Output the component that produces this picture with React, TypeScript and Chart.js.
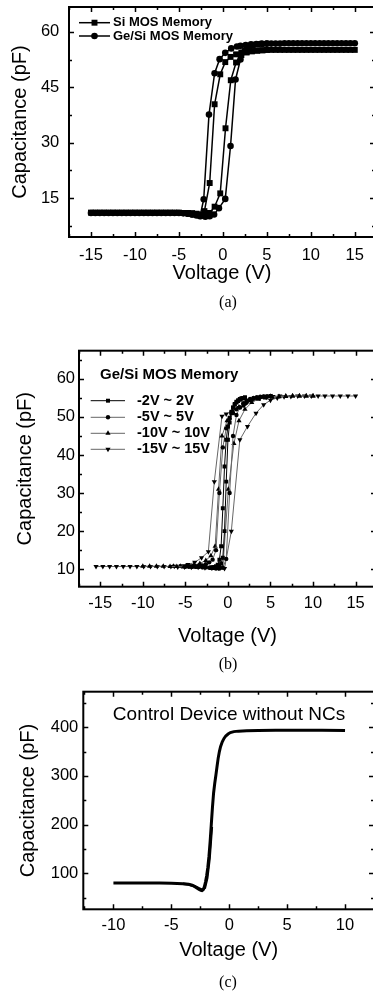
import React, { useEffect, useRef } from "react";
import { Chart, registerables } from "chart.js";
Chart.register(...registerables);

// ---------------- Panel (a) data ----------------
const A_X_TICKS = [-15, -10, -5, 0, 5, 10, 15];
const A_Y_TICKS = [15, 30, 45, 60];
const A_SI_FWD_V = [-15, -14.5, -14, -13.5, -13, -12.5, -12, -11.5, -11, -10.5, -10, -9.5, -9, -8.5, -8, -7.5, -7, -6.5, -6, -5.5, -5, -4.5, -4, -3.5, -3, -2.5, -2.0, -1.5, -0.94, -0.3, 0.3, 0.9, 1.5, 2.1, 2.7, 3.3, 3.9, 4.5, 5, 5.5, 6, 6.5, 7, 7.5, 8, 8.5, 9, 9.5, 10, 10.5, 11, 11.5, 12, 12.5, 13, 13.5, 14, 14.5, 15];
const A_SI_FWD_C = [11.1, 11.1, 11.1, 11.1, 11.1, 11.1, 11.1, 11.1, 11.1, 11.1, 11.1, 11.1, 11.1, 11.1, 11.1, 11.1, 11.1, 11.1, 11.1, 11.1, 11.1, 11.0, 11.0, 10.9, 10.8, 10.6, 10.6, 11.0, 12.7, 16.3, 33.9, 46.9, 51.7, 53.7, 54.4, 54.7, 54.9, 55.0, 55.1, 55.1, 55.1, 55.1, 55.1, 55.1, 55.1, 55.1, 55.1, 55.1, 55.1, 55.1, 55.1, 55.1, 55.1, 55.1, 55.1, 55.1, 55.1, 55.1, 55.1];
const A_SI_REV_V = [5, 4.5, 3.9, 3.3, 2.7, 2.1, 1.5, 0.87, 0.27, -0.3, -0.94, -1.5, -2.1, -2.5, -3, -3.5, -4];
const A_SI_REV_C = [55.1, 55.0, 54.9, 54.8, 54.6, 54.4, 53.9, 53.2, 51.8, 48.5, 40.4, 19.1, 11.5, 10.4, 10.6, 10.9, 11.0];
const A_GE_FWD_V = [-15, -14.5, -14, -13.5, -13, -12.5, -12, -11.5, -11, -10.5, -10, -9.5, -9, -8.5, -8, -7.5, -7, -6.5, -6, -5.5, -5, -4.5, -4, -3.5, -3, -2.5, -2.0, -1.5, -1.0, -0.45, 0.27, 0.87, 1.44, 2.0, 2.5, 3.0, 3.5, 4, 4.5, 5, 5.5, 6, 6.5, 7, 7.5, 8, 8.5, 9, 9.5, 10, 10.5, 11, 11.5, 12, 12.5, 13, 13.5, 14, 14.5, 15];
const A_GE_FWD_C = [11.0, 11.0, 11.0, 11.0, 11.0, 11.0, 11.0, 11.0, 11.0, 11.0, 11.0, 11.0, 11.0, 11.0, 11.0, 11.0, 11.0, 11.0, 11.0, 11.0, 11.0, 10.9, 10.8, 10.6, 10.5, 10.2, 10.0, 10.1, 10.6, 12.3, 14.8, 29.1, 47.1, 52.5, 55.0, 56.0, 56.4, 56.6, 56.7, 56.8, 56.8, 56.8, 56.8, 56.9, 56.9, 56.9, 56.9, 56.9, 56.9, 56.9, 56.9, 56.9, 56.9, 56.9, 56.9, 56.9, 56.9, 56.9, 56.9, 56.9];
const A_GE_REV_V = [5, 4.4, 3.8, 3.2, 2.6, 2.0, 1.6, 0.95, 0.27, -0.37, -0.94, -1.58, -2.18, -2.6, -3.0, -3.5, -4];
const A_GE_REV_C = [56.8, 56.8, 56.7, 56.6, 56.4, 56.2, 56.0, 55.5, 54.3, 52.6, 48.8, 37.6, 14.7, 10.1, 10.3, 10.6, 10.8];

// ---------------- Panel (b) data ----------------
const B_X_TICKS = [-15, -10, -5, 0, 5, 10, 15];
const B_Y_TICKS = [10, 20, 30, 40, 50, 60];
const B2_FWD_V = [-2, -1.8, -1.6, -1.4, -1.2, -1, -0.8, -0.6, -0.4, -0.2, 0, 0.2, 0.4, 0.6, 0.8, 1, 1.2, 1.4, 1.6, 1.8, 2];
const B2_FWD_C = [10.4, 10.3, 10.3, 10.4, 10.5, 10.8, 11.5, 13, 20, 33, 44, 48.5, 51, 52.5, 53.4, 54, 54.4, 54.7, 54.9, 55, 55.1];
const B2_REV_V = [2, 1.8, 1.6, 1.4, 1.2, 1, 0.8, 0.6, 0.4, 0.2, 0, -0.2, -0.4, -0.6, -0.8, -1, -1.2, -1.4, -1.6, -1.8, -2];
const B2_REV_C = [55.1, 55, 54.8, 54.5, 54.2, 53.8, 53.2, 52.4, 51.3, 49.8, 47.5, 44, 37, 26, 16, 12.5, 11.2, 10.8, 10.6, 10.5, 10.4];
const B5_FWD_V = [-5, -4.6, -4.2, -3.8, -3.4, -3, -2.6, -2.2, -1.8, -1.4, -1, -0.6, -0.2, 0.2, 0.6, 1, 1.4, 1.8, 2.2, 2.6, 3, 3.4, 3.8, 4.2, 4.6, 5];
const B5_FWD_C = [10.7, 10.7, 10.6, 10.6, 10.6, 10.5, 10.5, 10.4, 10.3, 10.2, 10.2, 10.4, 12.7, 30, 45, 50.5, 52.5, 53.6, 54.3, 54.7, 55, 55.2, 55.3, 55.4, 55.4, 55.5];
const B5_REV_V = [5, 4.6, 4.2, 3.8, 3.4, 3, 2.6, 2.2, 1.8, 1.4, 1, 0.6, 0.2, -0.2, -0.6, -1, -1.4, -1.8, -2.2, -2.6, -3, -3.4, -3.8, -4.2, -4.6, -5];
const B5_REV_C = [55.5, 55.4, 55.3, 55.2, 55, 54.8, 54.4, 53.8, 53, 52.5, 52, 51, 49.5, 47, 42, 30, 15, 12.5, 11.8, 11.3, 11, 10.9, 10.8, 10.8, 10.7, 10.7];
const B10_FWD_V = [-10, -9.2, -8.4, -7.6, -6.8, -6, -5.2, -4.4, -3.6, -2.8, -2, -1.3, -0.6, 0.05, 0.7, 1.3, 2, 2.8, 3.6, 4.4, 5.2, 6, 6.8, 7.6, 8.4, 9.2, 10];
const B10_FWD_C = [10.8, 10.8, 10.8, 10.8, 10.7, 10.7, 10.6, 10.6, 10.5, 10.4, 10.3, 10.2, 10.3, 31, 43, 49, 52, 53.8, 54.7, 55.1, 55.3, 55.4, 55.5, 55.5, 55.5, 55.5, 55.5];
const B10_REV_V = [10, 9.2, 8.4, 7.6, 6.8, 6, 5.2, 4.4, 3.6, 2.8, 2, 1.3, 0.6, -0.1, -0.7, -1.1, -1.5, -2, -2.6, -3.3, -4, -4.8, -5.6, -6.4];
const B10_REV_C = [55.5, 55.5, 55.5, 55.5, 55.4, 55.3, 55.2, 55, 54.7, 54.3, 53.6, 52.6, 51.2, 49, 45, 31, 16, 13.5, 12.3, 11.5, 11.1, 10.9, 10.8, 10.8];
const B15_FWD_V = [-15.5, -14.7, -13.9, -13.1, -12.3, -11.5, -10.7, -9.9, -9.1, -8.3, -7.5, -6.7, -5.9, -5.1, -4.3, -3.5, -2.7, -1.9, -1.1, -0.4, 0.4, 1.4, 2.3, 3.3, 4.2, 5.0, 5.8, 6.6, 7.4, 8.2, 9.0, 9.8, 10.6, 11.4, 12.3, 13.2, 14.1, 15];
const B15_FWD_C = [10.7, 10.7, 10.7, 10.7, 10.7, 10.7, 10.7, 10.7, 10.7, 10.7, 10.7, 10.7, 10.6, 10.6, 10.5, 10.5, 10.4, 10.3, 10.3, 10.2, 20, 44, 47.5, 51, 53.2, 54.4, 55, 55.3, 55.4, 55.5, 55.5, 55.5, 55.5, 55.5, 55.5, 55.5, 55.5, 55.5];
const B15_REV_V = [6.1, 5.3, 4.5, 3.7, 2.9, 2.1, 1.3, 0.5, -0.2, -0.7, -1.6, -2.3, -3.1, -3.9, -4.7, -5.5, -6.3];
const B15_REV_C = [55.5, 55.4, 55.2, 55, 54.5, 53.5, 52.5, 51.5, 50.8, 50.2, 33, 14.6, 13, 11.8, 11.2, 10.9, 10.8];

// ---------------- Panel (c) data ----------------
const C_X_TICKS = [-10, -5, 0, 5, 10];
const C_Y_TICKS = [100, 200, 300, 400];
const C_FWD_V = [-10, -8, -6, -5, -4.5, -4, -3.5, -3.2, -3.0, -2.8, -2.6, -2.45, -2.35, -2.25, -2.15, -2.05, -1.95, -1.85, -1.75, -1.65, -1.55, -1.45, -1.35, -1.25, -1.15, -1.05, -0.95, -0.85, -0.75, -0.6, -0.45, -0.3, -0.1, 0.1, 0.4, 0.8, 1.5, 2.5, 4, 6, 8, 10];
const C_FWD_C = [80, 80, 80, 79.5, 79, 78.5, 77.5, 75.5, 73, 70, 67, 65, 64.5, 66, 72, 82, 95, 112, 135, 165, 200, 235, 265, 285, 302, 320, 337, 350, 360, 370, 377, 382, 386, 389, 391, 392, 393, 393.5, 394, 394, 394, 393.5];
const C_REV_V = [-4, -3.5, -3, -2.6, -2.3, -2.1, -1.9, -1.7, -1.5];
const C_REV_C = [78.5, 77, 73.5, 69, 66, 70, 90, 130, 195];

const zip = (xs: number[], ys: number[]) => xs.map((x, i) => ({ x, y: ys[i] }));

const SANS = "'Liberation Sans', Arial, Helvetica, sans-serif";

function drawMarker(ctx: CanvasRenderingContext2D, style: string, x: number, y: number, r: number, rot = 0) {
  ctx.beginPath();
  if (style === "rect") {
    const s = r * Math.SQRT1_2;
    ctx.rect(x - s, y - s, 2 * s, 2 * s);
  } else if (style === "circle") {
    ctx.arc(x, y, r, 0, Math.PI * 2);
  } else if (style === "triangle") {
    const a = (rot * Math.PI) / 180;
    for (let k = 0; k < 3; k++) {
      const t = a - Math.PI / 2 + (k * 2 * Math.PI) / 3;
      const px = x + r * Math.cos(t);
      const py = y + r * Math.sin(t);
      if (k === 0) ctx.moveTo(px, py);
      else ctx.lineTo(px, py);
    }
    ctx.closePath();
  }
  ctx.fill();
}

function frameAndTicks(chart: any) {
  const { ctx, chartArea: a, scales } = chart;
  const xs = scales.x;
  const ys = scales.y;
  ctx.save();
  ctx.strokeStyle = "#000";
  ctx.lineWidth = 1.5;
  const drawAxisTicks = (scale: any, horizontal: boolean) => {
    const vals = scale.ticks.map((t: any) => t.value);
    const step = vals[1] - vals[0];
    const half = step / 2;
    let v = vals[0];
    while (v - half >= scale.min) v -= half;
    for (; v <= scale.max + 1e-9; v += half) {
      const isMajor = vals.some((m: number) => Math.abs(m - v) < 1e-6);
      const len = isMajor ? 5 : 3;
      const p = Math.round(scale.getPixelForValue(v)) + 0.5;
      ctx.beginPath();
      if (horizontal) {
        ctx.moveTo(p, a.bottom); ctx.lineTo(p, a.bottom - len);
        ctx.moveTo(p, a.top); ctx.lineTo(p, a.top + len);
      } else {
        ctx.moveTo(a.left, p); ctx.lineTo(a.left + len, p);
        ctx.moveTo(a.right, p); ctx.lineTo(a.right - len, p);
      }
      ctx.stroke();
    }
  };
  drawAxisTicks(xs, true);
  drawAxisTicks(ys, false);
  ctx.lineWidth = 2;
  ctx.strokeRect(a.left, a.top, a.right - a.left, a.bottom - a.top);
  ctx.restore();
}

type Panel = {
  w: number;
  h: number;
  top: number;
  plotLeft: number;
  plotTop: number;
  plotBottom: number;
  plotRight: number;
  xMin: number;
  xMax: number;
  yMin: number;
  yMax: number;
  xStep: number;
  yStep: number;
  xTickPad: number;
  xTitlePad: number;
  yTickPad: number;
  yTitlePad: number;
  datasets: any[];
  deco: (chart: any) => void;
};

const zeroPad = (s: any) => {
  s.paddingTop = 0;
  s.paddingBottom = 0;
  s.paddingLeft = 0;
  s.paddingRight = 0;
};

function ChartPanel({ p }: { p: Panel }) {
  const ref = useRef<HTMLCanvasElement | null>(null);
  useEffect(() => {
    if (!ref.current) return;
    const chart = new Chart(ref.current, {
      type: "line",
      data: { datasets: p.datasets },
      options: {
        animation: false,
        responsive: false,
        devicePixelRatio: 1,
        layout: { padding: { top: p.plotTop, right: p.w - p.plotRight, left: 0, bottom: 0 } },
        plugins: { legend: { display: false }, tooltip: { enabled: false } },
        elements: { line: { tension: 0 } },
        scales: {
          x: {
            type: "linear",
            min: p.xMin,
            max: p.xMax,
            grid: { display: false, drawTicks: false },
            border: { display: false },
            ticks: { stepSize: p.xStep, includeBounds: false, color: "#000", font: { family: SANS, size: 16.5 }, padding: p.xTickPad, maxRotation: 0, autoSkip: false },
            title: { display: true, text: "Voltage (V)", color: "#000", font: { family: SANS, size: 20 }, padding: { top: 0, bottom: p.xTitlePad } },
            afterFit: (s: any) => { s.height = p.h - p.plotBottom; zeroPad(s); },
          },
          y: {
            type: "linear",
            min: p.yMin,
            max: p.yMax,
            grid: { display: false, drawTicks: false },
            border: { display: false },
            ticks: { stepSize: p.yStep, includeBounds: false, color: "#000", font: { family: SANS, size: 16.5 }, padding: p.yTickPad },
            title: { display: true, text: "Capacitance (pF)", color: "#000", font: { family: SANS, size: 20 }, padding: { top: p.yTitlePad, bottom: 0 } },
            afterFit: (s: any) => { s.width = p.plotLeft; zeroPad(s); },
          },
        },
      } as any,
      plugins: [
        {
          id: "deco",
          afterDatasetsDraw: (chart: any) => {
            frameAndTicks(chart);
            p.deco(chart);
          },
        },
      ],
    });
    return () => chart.destroy();
  }, []);
  return (
    <canvas
      ref={ref}
      width={p.w}
      height={p.h}
      style={{ position: "absolute", left: 0, top: p.top, width: p.w, height: p.h }}
    />
  );
}

const mk = (label: string, data: any[], style: string, r: number, color: string, lw: number, rot = 0) => ({
  label,
  data,
  pointStyle: style,
  pointRadius: r,
  pointRotation: rot,
  pointBackgroundColor: "#000",
  pointBorderColor: "#000",
  pointBorderWidth: 0,
  borderColor: color,
  borderWidth: lw,
  showLine: true,
  fill: false,
});

const A_LABELS = ["Si MOS Memory", "Ge/Si MOS Memory"];
const B_TITLE = "Ge/Si MOS Memory";
const B_LABELS = ["-2V ~ 2V", "-5V ~ 5V", "-10V ~ 10V", "-15V ~ 15V"];
const C_TEXT = "Control Device without NCs";

const panelA: Panel = {
  w: 380, h: 300, top: 0,
  plotLeft: 69, plotTop: 7, plotBottom: 237, plotRight: 375,
  xMin: -17.5, xMax: 17.3, yMin: 4.5, yMax: 66.7, xStep: 5, yStep: 15,
  xTickPad: 8.4, xTitlePad: 15, yTickPad: 9.7, yTitlePad: 8,
  datasets: [
    mk(A_LABELS[0], zip(A_SI_FWD_V, A_SI_FWD_C), "rect", 4.2, "#000", 1.5),
    mk(A_LABELS[0], zip(A_SI_REV_V, A_SI_REV_C), "rect", 4.2, "#000", 1.5),
    mk(A_LABELS[1], zip(A_GE_FWD_V, A_GE_FWD_C), "circle", 3.3, "#000", 1.5),
    mk(A_LABELS[1], zip(A_GE_REV_V, A_GE_REV_C), "circle", 3.3, "#000", 1.5),
  ],
  deco: (chart: any) => {
    const ctx = chart.ctx;
    ctx.save();
    ctx.fillStyle = "#000";
    ctx.strokeStyle = "#000";
    ctx.lineWidth = 1.5;
    ctx.font = `bold 13px ${SANS}`;
    ctx.textBaseline = "middle";
    const rows = [22.7, 36];
    const styles = ["rect", "circle"];
    const rads = [4.2, 3.3];
    rows.forEach((y, i) => {
      ctx.beginPath();
      ctx.moveTo(79, y);
      ctx.lineTo(110, y);
      ctx.stroke();
      drawMarker(ctx, styles[i], 94.5, y, rads[i]);
      ctx.fillText(A_LABELS[i], 113, y);
    });
    ctx.restore();
  },
};

const panelB: Panel = {
  w: 380, h: 330, top: 330,
  plotLeft: 79, plotTop: 20.7, plotBottom: 256.7, plotRight: 376,
  xMin: -17.5, xMax: 17.4, yMin: 5.4, yMax: 67.4, xStep: 5, yStep: 10,
  xTickPad: 7, xTitlePad: 11.5, yTickPad: 4, yTitlePad: 13,
  datasets: [
    mk(B_LABELS[0], zip(B2_FWD_V, B2_FWD_C), "rect", 2.8, "#000", 1),
    mk(B_LABELS[0], zip(B2_REV_V, B2_REV_C), "rect", 2.8, "#000", 1),
    mk(B_LABELS[1], zip(B5_FWD_V, B5_FWD_C), "circle", 2.2, "#666", 1),
    mk(B_LABELS[1], zip(B5_REV_V, B5_REV_C), "circle", 2.2, "#666", 1),
    mk(B_LABELS[2], zip(B10_FWD_V, B10_FWD_C), "triangle", 3, "#666", 1),
    mk(B_LABELS[2], zip(B10_REV_V, B10_REV_C), "triangle", 3, "#666", 1),
    mk(B_LABELS[3], zip(B15_FWD_V, B15_FWD_C), "triangle", 3, "#666", 1, 180),
    mk(B_LABELS[3], zip(B15_REV_V, B15_REV_C), "triangle", 3, "#666", 1, 180),
  ],
  deco: (chart: any) => {
    const ctx = chart.ctx;
    ctx.save();
    ctx.fillStyle = "#000";
    ctx.textBaseline = "middle";
    ctx.font = `bold 15px ${SANS}`;
    ctx.fillText(B_TITLE, 100, 45);
    ctx.font = `bold 14.5px ${SANS}`;
    const rows = [70.7, 87.3, 103.3, 119.3];
    const styles = ["rect", "circle", "triangle", "triangle"];
    const rots = [0, 0, 0, 180];
    const rads = [2.8, 2.2, 3, 3];
    const cols = ["#000", "#666", "#666", "#666"];
    rows.forEach((y, i) => {
      ctx.strokeStyle = cols[i];
      ctx.lineWidth = 1;
      ctx.beginPath();
      ctx.moveTo(90.7, y);
      ctx.lineTo(125, y);
      ctx.stroke();
      ctx.fillStyle = "#000";
      drawMarker(ctx, styles[i], 108, y, rads[i], rots[i]);
      ctx.fillText(B_LABELS[i], 137, y);
    });
    ctx.restore();
  },
};

const panelC: Panel = {
  w: 380, h: 300, top: 670,
  plotLeft: 83.3, plotTop: 21.7, plotBottom: 239.3, plotRight: 374,
  xMin: -12.6, xMax: 12.5, yMin: 26, yMax: 473, xStep: 5, yStep: 100,
  xTickPad: 6.1, xTitlePad: 8, yTickPad: 5, yTitlePad: 16.3,
  datasets: [
    { label: "fwd", data: zip(C_FWD_V, C_FWD_C), borderColor: "#000", borderWidth: 3, pointRadius: 0, fill: false },
    { label: "rev", data: zip(C_REV_V, C_REV_C), borderColor: "#000", borderWidth: 2.5, pointRadius: 0, fill: false },
  ],
  deco: (chart: any) => {
    const ctx = chart.ctx;
    ctx.save();
    ctx.fillStyle = "#000";
    ctx.textAlign = "center";
    ctx.textBaseline = "middle";
    ctx.font = `19px ${SANS}`;
    ctx.fillText(C_TEXT, 229, 45);
    ctx.restore();
  },
};

const capStyle = (top: number): React.CSSProperties => ({
  position: "absolute",
  left: 228,
  top,
  transform: "translate(-50%, -50%)",
  fontFamily: "'Liberation Serif', 'Times New Roman', serif",
  fontSize: 16,
  color: "#000",
  whiteSpace: "nowrap",
});

export default function App() {
  return (
    <div style={{ position: "fixed", left: 0, top: 0, width: 373, height: 993, overflow: "hidden", background: "#fff" }}>
      <ChartPanel p={panelA} />
      <ChartPanel p={panelB} />
      <ChartPanel p={panelC} />
      <div style={capStyle(302)}>(a)</div>
      <div style={capStyle(664)}>(b)</div>
      <div style={capStyle(982)}>(c)</div>
    </div>
  );
}
